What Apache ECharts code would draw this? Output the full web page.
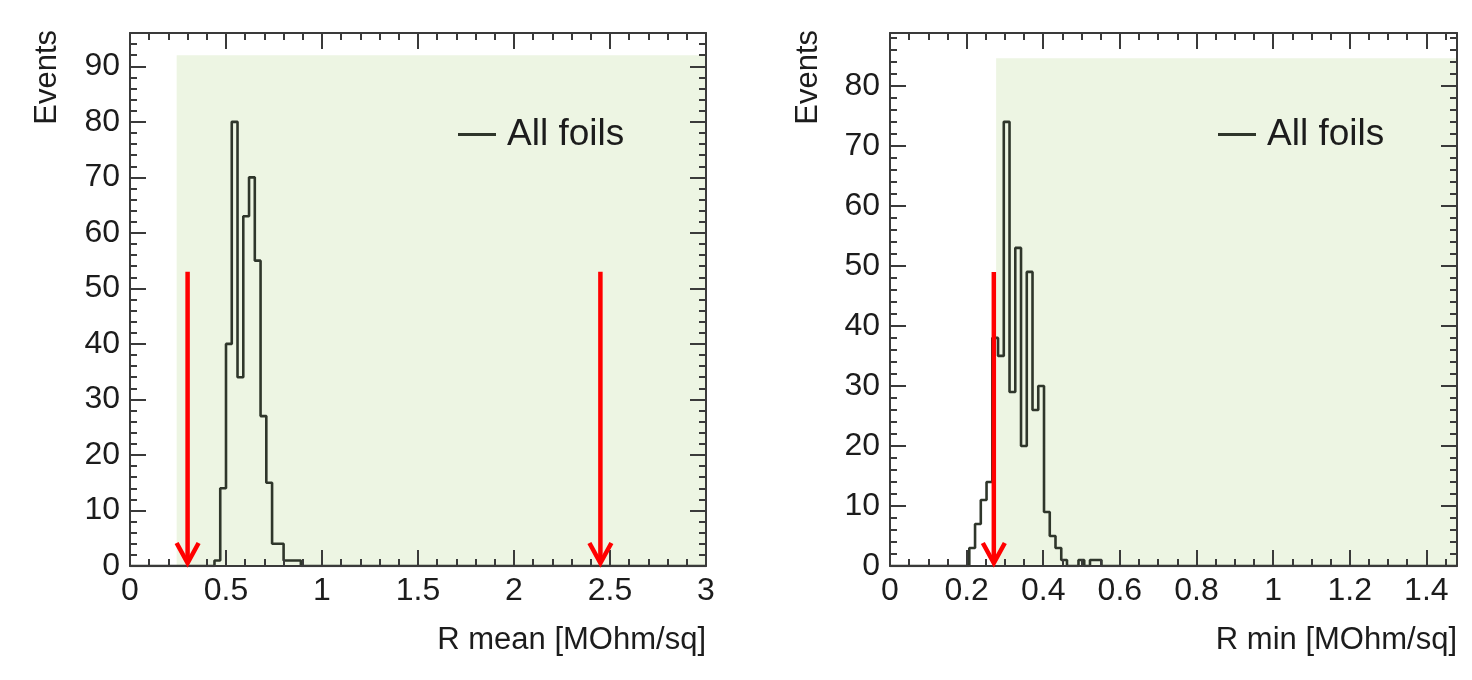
<!DOCTYPE html>
<html>
<head>
<meta charset="utf-8">
<script src="https://cdn.jsdelivr.net/npm/echarts@6/dist/echarts.min.js"></script>
<style>
html,body{margin:0;padding:0;background:#fff;}
#chart{width:1472px;height:680px;}
</style>
</head>
<body>
<div id="chart"></div>
<script>
// ---- Data: R mean histogram (bin lower edges, counts) ----
const rmeanEdges  = [0.44,0.47,0.50,0.53,0.56,0.59,0.62,0.65,0.68,0.71,0.74,0.77,0.80,0.83,0.86];
const rmeanCounts = [1,14,40,80,34,63,70,55,27,15,4,4,1,1,1];
const rmeanBinWidth = 0.03;
const rmeanRange = [0, 3];
const rmeanYMax = 96;
const rmeanArrowsX = [0.30, 2.45];
const rmeanArrowTop = 53;
const rmeanShade = [0.243, 92];   // start x, top y

// ---- Data: R min histogram ----
const rminEdges  = [0.207,0.222,0.237,0.252,0.267,0.282,0.297,0.312,0.327,0.342,0.357,0.372,0.387,0.402,0.417,0.432,0.447,0.462,0.477,0.492,0.507,0.522,0.537];
const rminCounts = [3,7,11,14,38,35,74,29,53,20,49,26,30,9,5,3,1,0,0,1,0,1,1];
const rminBinWidth = 0.015;
const rminRange = [0, 1.48];
const rminYMax = 88.8;
const rminArrowsX = [0.271];
const rminArrowTop = 49;
const rminShade = [0.277, 84.6];

const legendName = 'All foils';
const xTitles = ['R mean [MOhm/sq]', 'R min [MOhm/sq]'];
const yTitle = 'Events';

const FONT = 'Liberation Sans, Arial, Helvetica, sans-serif';
const TXT = '#1c1c1c';
const HIST = '#2f362b';
const FRAME = '#3a3a3a';
const GREEN = '#edf5e3';

function histPoints(edges, counts, w, range) {
  const pts = [[range[0], 0], [edges[0], 0]];
  for (let i = 0; i < edges.length; i++) {
    pts.push([edges[i], counts[i]]);
    pts.push([edges[i] + w, counts[i]]);
  }
  pts.push([edges[edges.length - 1] + w, 0]);
  pts.push([range[1], 0]);
  return pts;
}

function xAxes(gridIndex, range, interval, minorSplit) {
  const common = {
    type: 'value', gridIndex, min: range[0], max: range[1], interval,
    z: 5,
    axisLine: {show: true, onZero: false, lineStyle: {color: FRAME, width: 2}},
    axisTick: {show: true, inside: true, length: 16, lineStyle: {color: FRAME, width: 2}},
    minorTick: {show: true, splitNumber: minorSplit, length: 7, lineStyle: {color: FRAME, width: 2}},
    splitLine: {show: false}
  };
  return [
    Object.assign({}, common, {
      position: 'bottom',
      axisLabel: {show: true, fontSize: 32, fontFamily: FONT, color: TXT, margin: 9, showMaxLabel: range[1] === 3}
    }),
    Object.assign({}, common, {position: 'top', axisLabel: {show: false}})
  ];
}

function yAxes(gridIndex, ymax) {
  const common = {
    type: 'value', gridIndex, min: 0, max: ymax, interval: 10,
    z: 5,
    axisLine: {show: true, onZero: false, lineStyle: {color: FRAME, width: 2}},
    axisTick: {show: true, inside: true, length: 16, lineStyle: {color: FRAME, width: 2}},
    minorTick: {show: true, splitNumber: 5, length: 7, lineStyle: {color: FRAME, width: 2}},
    splitLine: {show: false}
  };
  return [
    Object.assign({}, common, {
      position: 'left',
      axisLabel: {show: true, fontSize: 32, fontFamily: FONT, color: TXT, margin: 10, showMaxLabel: false}
    }),
    Object.assign({}, common, {position: 'right', axisLabel: {show: false}})
  ];
}

function arrowSeries(xs, top, xi, yi) {
  return {
    type: 'custom', xAxisIndex: xi, yAxisIndex: yi, z: 10, silent: true,
    data: xs.map(x => [x, top]),
    renderItem: function (params, api) {
      const x = api.value(0), t = api.value(1);
      const pTop = api.coord([x, t]);
      const pBot = api.coord([x, 0]);
      const tip = [pBot[0], pBot[1] - 3];
      const red = {stroke: '#ff0000', lineWidth: 4.5, fill: null};
      return {
        type: 'group',
        children: [
          {type: 'line', shape: {x1: pTop[0], y1: pTop[1], x2: tip[0], y2: tip[1] - 2}, style: red},
          {type: 'polyline', shape: {points: [[tip[0] - 11, tip[1] - 20], tip, [tip[0] + 11, tip[1] - 20]]}, style: red}
        ]
      };
    }
  };
}

function histSeries(edges, counts, w, range, shade, xi, yi) {
  return {
    name: legendName, type: 'line', xAxisIndex: xi, yAxisIndex: yi,
    data: histPoints(edges, counts, w, range),
    showSymbol: false, symbol: 'none', z: 3,
    lineStyle: {color: HIST, width: 2.6},
    itemStyle: {color: HIST},
    markArea: {
      silent: true,
      itemStyle: {color: GREEN},
      data: [[{xAxis: shade[0], yAxis: 0}, {xAxis: range[1], yAxis: shade[1]}]]
    }
  };
}

const chart = echarts.init(document.getElementById('chart'), null, {renderer: 'canvas'});
const xa = xAxes(0, rmeanRange, 0.5, 5).concat(xAxes(1, rminRange, 0.2, 4));
const ya = yAxes(0, rmeanYMax).concat(yAxes(1, rminYMax));

const option = {
  backgroundColor: '#ffffff',
  animation: false,
  grid: [
    {left: 130, top: 33, width: 576, height: 533},
    {left: 890, top: 33, width: 567, height: 533}
  ],
  xAxis: xa,
  yAxis: ya,
  legend: [
    {left: 453, top: 111, padding: 5, data: [legendName], icon: 'rect', itemWidth: 38, itemHeight: 3,
     textStyle: {fontSize: 37, fontFamily: FONT, color: TXT, padding: [0, 0, 0, 6]}},
    {left: 1213, top: 111, padding: 5, data: [legendName], icon: 'rect', itemWidth: 38, itemHeight: 3,
     textStyle: {fontSize: 37, fontFamily: FONT, color: TXT, padding: [0, 0, 0, 6]}}
  ],
  series: [
    histSeries(rmeanEdges, rmeanCounts, rmeanBinWidth, rmeanRange, rmeanShade, 0, 0),
    histSeries(rminEdges, rminCounts, rminBinWidth, rminRange, rminShade, 2, 2),
    arrowSeries(rmeanArrowsX, rmeanArrowTop, 0, 0),
    arrowSeries(rminArrowsX, rminArrowTop, 2, 2)
  ],
  graphic: [
    {type: 'text', x: 47, y: 30, rotation: Math.PI / 2,
     style: {text: yTitle, font: '31px ' + FONT, fill: TXT, textAlign: 'right', textVerticalAlign: 'middle'}},
    {type: 'text', x: 808, y: 30, rotation: Math.PI / 2,
     style: {text: yTitle, font: '31px ' + FONT, fill: TXT, textAlign: 'right', textVerticalAlign: 'middle'}},
    {type: 'text', x: 706, y: 640,
     style: {text: xTitles[0], font: '31px ' + FONT, fill: TXT, textAlign: 'right', textVerticalAlign: 'middle'}},
    {type: 'text', x: 1457, y: 640,
     style: {text: xTitles[1], font: '31px ' + FONT, fill: TXT, textAlign: 'right', textVerticalAlign: 'middle'}}
  ]
};
chart.setOption(option);
</script>
</body>
</html>
